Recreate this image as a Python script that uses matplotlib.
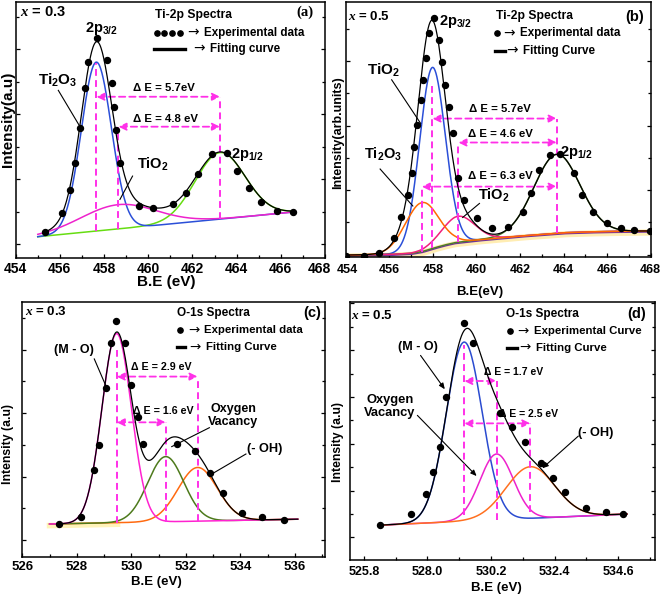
import numpy as np
import matplotlib
matplotlib.use('Agg')
import matplotlib.pyplot as plt
import matplotlib.transforms as mtransforms
from matplotlib.ticker import FixedLocator, MultipleLocator

plt.rcParams['font.family'] = ['Liberation Sans', 'DejaVu Sans']
plt.rcParams['font.weight'] = 'bold'
plt.rcParams['mathtext.fontset'] = 'custom'
plt.rcParams['mathtext.rm'] = 'Liberation Sans:bold'
plt.rcParams['mathtext.it'] = 'Liberation Serif:italic:bold'
plt.rcParams['mathtext.bf'] = 'Liberation Sans:bold'

# ---------------- data: panel (a)  Ti-2p, x = 0.3 ----------------
a_exp_be = [455.33, 456.08, 456.46, 456.69, 456.91, 457.14, 457.29, 457.67, 458.15, 458.35,
            458.45, 458.54, 458.72, 459.60, 460.23, 461.14, 461.69, 462.27, 462.90, 463.55,
            464.03, 464.58, 465.10, 465.84, 466.57]
a_exp_int = [10.2, 17.3, 26.4, 36.9, 50.5, 66.2, 76.6, 85.7, 77.2, 68.1,
             59.0, 49.9, 36.9, 20.2, 19.3, 21.0, 25.4, 32.7, 40.5, 40.8,
             34.0, 27.1, 21.6, 18.4, 17.9]
a_base_be = [455.0, 466.6]
a_base_int = [8.2, 17.9]
a_peaks = ['Ti2O3', 'TiO2', '2p1/2']
a_centers = [457.65, 458.65, 463.25]
a_heights = [66.0, 9.5, 26.0]
a_sigmas = [0.68, 1.7, 1.13]
a_ticks = [454, 456, 458, 460, 462, 464, 466, 468]

# ---------------- data: panel (b)  Ti-2p, x = 0.5 ----------------
b_exp_be = [454.02, 454.86, 455.55, 456.22, 456.54, 456.85, 457.03, 457.15, 457.29, 457.44,
            457.56, 457.69, 457.81, 458.05, 458.30, 458.42, 458.56, 458.76, 458.94, 459.14,
            459.43, 460.01, 460.73, 461.44, 462.12, 462.51, 462.89, 463.38, 463.84, 464.50,
            464.86, 465.37, 466.01, 466.62, 467.23, 467.97]
b_exp_int = [0.3, 0.4, 1.6, 7.2, 15.7, 24.2, 32.7, 43.1, 51.6, 61.4,
             69.3, 77.8, 87.6, 93.5, 85.2, 76.5, 67.3, 58.8, 48.4, 30.7,
             22.2, 15.0, 11.1, 11.8, 17.6, 24.8, 34.0, 39.9, 40.3, 32.7,
             24.4, 17.6, 13.3, 11.1, 10.5, 10.1]
b_bg_be = [454.0, 456.0, 457.0, 457.5, 458.0, 458.5, 459.0, 459.5, 460.0, 461.0,
           462.0, 463.0, 464.0, 465.0, 466.0, 468.0]
b_bg_int = [0.65, 0.9, 1.3, 2.0, 3.3, 4.5, 5.5, 6.0, 6.5, 7.3,
            8.1, 8.7, 9.4, 9.7, 9.9, 10.1]
b_peaks = ['TiO2', 'Ti2O3', 'TiO2 (2)', '2p1/2']
b_centers = [457.98, 457.49, 459.17, 463.69]
b_heights = [71.0, 19.2, 10.2, 31.0]
b_sigmas = [0.59, 0.76, 0.75, 1.05]
b_ticks = [454, 456, 458, 460, 462, 464, 466, 468]

# ---------------- data: panel (c)  O-1s, x = 0.3 ----------------
c_exp_be = [527.36, 528.15, 528.64, 528.80, 529.07, 529.25, 529.44, 529.77, 529.99, 530.23,
            530.41, 531.66, 532.33, 532.88, 533.35, 534.04, 534.78, 535.60]
c_exp_int = [13.0, 15.9, 34.2, 43.9, 66.1, 83.7, 92.6, 83.7, 67.4, 55.0,
             44.3, 44.3, 41.7, 32.9, 25.3, 17.5, 15.6, 14.6]
c_base_be = [527.0, 536.1]
c_base_int = [13.0, 14.9]
c_peaks = ['M-O', 'Oxygen Vacancy', '-OH']
c_centers = [529.46, 531.26, 532.43]
c_heights = [74.0, 25.5, 21.0]
c_sigmas = [0.54, 0.66, 0.72]
c_ticks = [526, 528, 530, 532, 534, 536]

# ---------------- data: panel (d)  O-1s, x = 0.5 ----------------
d_exp_be = [526.35, 527.43, 527.95, 528.18, 528.43, 528.64, 529.26, 529.56, 530.51, 530.91,
            531.37, 531.91, 532.33, 532.77, 533.50, 534.17, 534.77]
d_exp_int = [13.5, 17.9, 25.5, 34.2, 43.9, 63.2, 91.6, 83.9, 56.8, 51.6,
             45.8, 37.4, 31.6, 26.5, 20.0, 18.7, 17.7]
d_base_be = [526.35, 534.9]
d_base_int = [13.5, 17.8]
d_peaks = ['M-O', 'Oxygen Vacancy', '-OH']
d_centers = [529.27, 530.39, 531.56]
d_heights = [69.4, 25.5, 20.0]
d_sigmas = [0.62, 0.58, 0.85]
d_ticks = [525.8, 528.0, 530.2, 532.4, 534.6]


# ---------------- helpers ----------------
MAG = '#ff30e8'


def gauss(x, c, h, s):
    return h * np.exp(-(x - c) ** 2 / (2.0 * s ** 2))


def vdash(ax, x, y0, y1):
    ax.plot([x, x], [y0, y1], ls=(0, (3.5, 2.2)), color=MAG, lw=1.4, zorder=4)


def harrow(ax, x0, x1, y):
    ax.annotate('', xy=(x1, y), xytext=(x0, y),
                arrowprops=dict(arrowstyle='<|-|>,head_length=0.45,head_width=0.22',
                                color=MAG, lw=1.3, ls=(0, (3.5, 2.2)),
                                shrinkA=0, shrinkB=0), zorder=4)


def leader(ax, p0, p1, head=False):
    if head:
        ax.annotate('', xy=p1, xytext=p0,
                    arrowprops=dict(arrowstyle='-|>,head_length=0.35,head_width=0.15',
                                    color='black', lw=0.8, shrinkA=0, shrinkB=0))
    else:
        ax.plot([p0[0], p1[0]], [p0[1], p1[1]], color='black', lw=0.8, zorder=5)


def style(ax, xlim, yticks_start, ystep, xmajor, xlabels, tsize, pad):
    ax.set_xlim(*xlim)
    ax.set_ylim(0, 100)
    yt = np.arange(yticks_start, 100, ystep)
    ax.yaxis.set_major_locator(FixedLocator(yt))
    ax.yaxis.set_minor_locator(FixedLocator(yt + ystep / 2.0))
    ax.set_xticks(xmajor)
    ax.set_xticklabels(xlabels)
    ax.tick_params(which='both', direction='in', left=True, right=True, top=False,
                   labelleft=False, width=0.9)
    ax.tick_params(which='major', length=3.2, labelsize=tsize)
    ax.tick_params(which='minor', length=2.2)
    ax.tick_params(axis='x', pad=pad)
    for s in ax.spines.values():
        s.set_linewidth(1.1)


def axis_labels(ax, xl, xpos, xsize, yl, ypos, ysize):
    ax.text(xpos[0], xpos[1], xl, transform=ax.transAxes, fontsize=xsize,
            ha='center', va='center')
    ax.text(ypos[0], ypos[1], yl, transform=ax.transAxes, fontsize=ysize,
            rotation=90, ha='center', va='center')


def arrow_text(ax, x, y, words, fs):
    ax.text(x, y, '→', fontsize=fs + 1.5, va='center', ha='left',
            family='DejaVu Sans', weight='normal')
    ax.annotate(words, xy=(x, y), xytext=(fs * 1.45, 0), textcoords='offset points',
                fontsize=fs, va='center', ha='left')


def legend_block(ax, title, tx, ty, dots_x, dot_y, dtext_x, line_x, line_y, ltext_x, dtext, ltext, fs=8.4):
    ax.text(tx, ty, title, fontsize=fs + 0.3, va='center', ha='left')
    ax.plot(dots_x, [dot_y] * len(dots_x), 'o', color='black', ms=3.8, zorder=6)
    arrow_text(ax, dtext_x, dot_y, dtext, fs)
    ax.plot(line_x, [line_y, line_y], color='black', lw=2.4)
    arrow_text(ax, ltext_x, line_y, ltext, fs)


fig = plt.figure(figsize=(6.61, 5.98), dpi=100)

# =============== panel (a) ===============
ax = fig.add_axes([0.0237, 0.569, 0.468, 0.428])
xa = np.linspace(a_base_be[0], a_base_be[1], 600)
base_a = np.interp(xa, a_base_be, a_base_int)
col_a = ['#2b4fd8', '#ee22cc', '#66dd11']
for i in [2, 0, 1]:
    ax.plot(xa, base_a + gauss(xa, a_centers[i], a_heights[i], a_sigmas[i]), color=col_a[i], lw=1.1)
fit_a = base_a + sum(gauss(xa, c, h, s) for c, h, s in zip(a_centers, a_heights, a_sigmas))
m = xa >= a_exp_be[0] - 0.05
ax.plot(xa[m], fit_a[m], color='black', lw=0.9, zorder=5)
ax.plot(a_exp_be, a_exp_int, 'o', color='black', ms=4.3, zorder=6)

bA = lambda x: float(np.interp(x, a_base_be, a_base_int))
vdash(ax, a_centers[0], bA(a_centers[0]), 76.0)
vdash(ax, a_centers[1], bA(a_centers[1]), 51.2)
vdash(ax, a_centers[2], bA(a_centers[2]), 62.9)
harrow(ax, a_centers[0], a_centers[2], 62.9)
harrow(ax, a_centers[1], a_centers[2], 51.2)
ax.text(460.7, 66.3, 'Δ E = 5.7eV', fontsize=8.2, ha='center', va='center')
ax.text(460.8, 54.4, 'Δ E = 4.8 eV', fontsize=8.2, ha='center', va='center')

ax.text(454.2, 96.0, r'$x$ = 0.3', fontsize=10.5, ha='left', va='center')
ax.text(467.47, 96.0, '(a)', fontsize=10.5, ha='right', va='center', family='Liberation Serif')
legend_block(ax, 'Ti-2p Spectra', 460.3, 95.0, [460.38, 460.73, 461.07, 461.44], 88.0, 461.75,
             [460.26, 461.66], 81.6, 462.05, 'Experimental data', 'Fitting curve')
ax.text(457.9, 89.5, r'2p$_{3/2}$', fontsize=10.5, ha='center', va='center')
ax.text(455.89, 69.4, r'Ti$_2$O$_3$', fontsize=11, ha='center', va='center')
leader(ax, (455.93, 65.4), (456.96, 50.5))
ax.text(460.23, 36.4, r'TiO$_2$', fontsize=10.5, ha='center', va='center')
leader(ax, (459.29, 31.9), (458.72, 22.8))
ax.text(464.5, 40.2, r'2p$_{1/2}$', fontsize=10.5, ha='center', va='center')
style(ax, (454, 468), 5.2, 25.4, a_ticks, [str(v) for v in a_ticks], 10, 3.0)
ax.xaxis.set_minor_locator(MultipleLocator(1))
last = ax.get_xticklabels()[-1]
last.set_transform(last.get_transform() + mtransforms.ScaledTranslation(-6 / 100.0, 0, fig.dpi_scale_trans))
axis_labels(ax, 'B.E (eV)', (0.488, -0.094), 11, 'Intensity(a.u)', (-0.025, 0.54), 11)

# =============== panel (b) ===============
ax = fig.add_axes([0.523, 0.5707, 0.4614, 0.4263])
xb = np.linspace(454, 468, 700)
bg_b = np.interp(xb, b_bg_be, b_bg_int)
ax.plot(xb, bg_b - 0.6, color='#ffe9a0', lw=4.5, alpha=0.8, zorder=1)
col_b = ['#2b4fd8', '#ff6a00', '#f0207a', '#4f7a28']
ax.plot(xb, bg_b - 0.4, color='#7030a0', lw=1.0, zorder=2)
for i in [0, 3, 2, 1]:
    ax.plot(xb, bg_b + gauss(xb, b_centers[i], b_heights[i], b_sigmas[i]), color=col_b[i], lw=1.1, zorder=3)
fit_b = bg_b + sum(gauss(xb, c, h, s) for c, h, s in zip(b_centers, b_heights, b_sigmas))
ax.plot(xb, fit_b, color='black', lw=0.9, zorder=5)
ax.plot(b_exp_be, b_exp_int, 'o', color='black', ms=4.3, zorder=6)

bB = lambda x: float(np.interp(x, b_bg_be, b_bg_int))
vdash(ax, b_centers[0], bB(b_centers[0]), 67.3)
vdash(ax, b_centers[1], bB(b_centers[1]), 27.5)
vdash(ax, b_centers[2], bB(b_centers[2]), 44.8)
vdash(ax, b_centers[3], bB(b_centers[3]), 54.2)
harrow(ax, b_centers[0], b_centers[3], 54.2)
harrow(ax, b_centers[2], b_centers[3], 44.8)
harrow(ax, b_centers[1], b_centers[3], 27.5)
ax.text(461.08, 57.9, 'Δ E = 5.7eV', fontsize=8.2, ha='center', va='center')
ax.text(461.11, 48.3, 'Δ E = 4.6 eV', fontsize=8.2, ha='center', va='center')
ax.text(461.08, 31.5, 'Δ E = 6.3 eV', fontsize=8.2, ha='center', va='center')

ax.text(454.12, 94.4, r'$x$ = 0.5', fontsize=9.5, ha='left', va='center')
ax.text(467.7, 94.2, '(b)', fontsize=10.5, ha='right', va='center')
legend_block(ax, 'Ti-2p Spectra', 460.9, 94.6, [460.93], 87.6, 461.22,
             [460.85, 461.31], 80.8, 461.36, 'Experimental data', 'Fitting Curve')
ax.text(459.05, 92.4, r'2p$_{3/2}$', fontsize=10.5, ha='center', va='center')
ax.text(455.73, 72.9, r'TiO$_2$', fontsize=11, ha='center', va='center')
leader(ax, (456.11, 69.4), (457.44, 52.3))
ax.text(455.70, 40.0, r'Ti$_2$O$_3$', fontsize=10.5, ha='center', va='center')
leader(ax, (455.58, 34.4), (457.08, 19.9))
ax.text(460.78, 24.0, r'TiO$_2$', fontsize=10.5, ha='center', va='center')
leader(ax, (460.14, 20.9), (459.37, 15.4))
ax.text(464.6, 40.8, r'2p$_{1/2}$', fontsize=10.5, ha='center', va='center')
style(ax, (454, 468), 0.8, 25.3, b_ticks, [str(v) for v in b_ticks], 9, 5.5)
ax.xaxis.set_minor_locator(MultipleLocator(1))
first = ax.get_xticklabels()[0]
first.set_transform(first.get_transform() + mtransforms.ScaledTranslation(2 / 100.0, 0, fig.dpi_scale_trans))
axis_labels(ax, 'B.E(eV)', (0.44, -0.137), 9.5, 'Intensity(arb.units)', (-0.025, 0.487), 9)

# =============== panel (c) ===============
ax = fig.add_axes([0.0337, 0.0681, 0.458, 0.4274])
xc = np.linspace(c_base_be[0], c_base_be[1], 600)
base_c = np.interp(xc, c_base_be, c_base_int)
ax.plot(xc[xc < 529.5], base_c[xc < 529.5] - 0.6, color='#fff0a8', lw=4, alpha=0.8, zorder=1)
col_c = ['#ff22d0', '#4d7a1c', '#ff6a10']
for i in [2, 1, 0]:
    ax.plot(xc, base_c + gauss(xc, c_centers[i], c_heights[i], c_sigmas[i]), color=col_c[i], lw=1.1, zorder=3)
fit_c = base_c + sum(gauss(xc, c, h, s) for c, h, s in zip(c_centers, c_heights, c_sigmas))
m = xc >= c_exp_be[0] - 0.1
ax.plot(xc[m], fit_c[m], color='black', lw=0.9, zorder=5)
ax.plot(c_exp_be, c_exp_int, 'o', color='black', ms=4.3, zorder=6)

bC = lambda x: float(np.interp(x, c_base_be, c_base_int))
vdash(ax, c_centers[0], bC(c_centers[0]), 81.1)
vdash(ax, c_centers[1], bC(c_centers[1]), 52.8)
vdash(ax, c_centers[2], bC(c_centers[2]), 70.7)
harrow(ax, c_centers[0], c_centers[2], 70.7)
harrow(ax, c_centers[0], c_centers[1], 52.8)
ax.text(531.11, 74.6, 'Δ E = 2.9 eV', fontsize=7.7, ha='center', va='center')
ax.text(531.17, 57.3, 'Δ E = 1.6 eV', fontsize=7.7, ha='center', va='center')

ax.text(526.1, 96.0, r'$x$ = 0.3', fontsize=9.5, ha='left', va='center')
ax.text(536.95, 95.6, '(c)', fontsize=10.5, ha='right', va='center')
legend_block(ax, 'O-1s Spectra', 531.66, 95.4, [531.78], 88.9, 532.07,
             [531.66, 531.97], 82.1, 532.12, 'Experimental data', 'Fitting Curve', fs=8.2)
ax.text(527.89, 81.1, '(M - O)', fontsize=9, ha='center', va='center')
leader(ax, (528.64, 77.6), (529.12, 65.7))
ax.text(533.74, 55.4, 'Oxygen\nVacancy', fontsize=9, ha='center', va='center', linespacing=1.1)
leader(ax, (532.86, 50.7), (531.48, 43.3))
ax.text(534.9, 42.4, '(- OH)', fontsize=9.2, ha='center', va='center')
leader(ax, (534.2, 40.4), (533.0, 32.9))
style(ax, (526, 537.1), 6.8, 24.8, c_ticks, [str(v) for v in c_ticks], 9.5, 3.0)
ax.xaxis.set_minor_locator(MultipleLocator(1))
axis_labels(ax, 'B.E (eV)', (0.444, -0.095), 9.5, 'Intensity (a.u)', (-0.047, 0.444), 8.8)

# =============== panel (d) ===============
ax = fig.add_axes([0.5295, 0.0635, 0.4614, 0.432])
xd = np.linspace(d_base_be[0], d_base_be[1], 600)
base_d = np.interp(xd, d_base_be, d_base_int)
col_d = ['#2a4bd0', '#ee22cc', '#ff7020']
for i in [0, 1, 2]:
    ax.plot(xd, base_d + gauss(xd, d_centers[i], d_heights[i], d_sigmas[i]), color=col_d[i], lw=1.1, zorder=3)
fit_d = base_d + sum(gauss(xd, c, h, s) for c, h, s in zip(d_centers, d_heights, d_sigmas))
ax.plot(xd, fit_d, color='black', lw=0.9, zorder=5)
ax.plot(d_exp_be, d_exp_int, 'o', color='black', ms=4.3, zorder=6)

bD = lambda x: float(np.interp(x, d_base_be, d_base_int))
vdash(ax, d_centers[0], bD(d_centers[0]) + 2.5, 83.2)
vdash(ax, d_centers[1], bD(d_centers[1]), 69.3)
vdash(ax, d_centers[2], bD(d_centers[2]) + 2.5, 52.9)
harrow(ax, d_centers[0], d_centers[1], 69.3)
harrow(ax, d_centers[0], d_centers[2], 52.9)
ax.text(530.99, 72.6, 'Δ E = 1.7 eV', fontsize=7.5, ha='center', va='center')
ax.text(531.49, 56.5, 'Δ E = 2.5 eV', fontsize=7.5, ha='center', va='center')

ax.text(525.37, 94.8, r'$x$ = 0.5', fontsize=9.5, ha='left', va='center')
ax.text(535.55, 95.2, '(d)', fontsize=10.5, ha='right', va='center')
legend_block(ax, 'O-1s Spectra', 530.7, 95.2, [530.85], 88.6, 531.12,
             [530.74, 531.08], 82.2, 531.18, 'Experimental Curve', 'Fitting Curve', fs=8.2)
ax.text(527.68, 82.6, '(M - O)', fontsize=9, ha='center', va='center')
leader(ax, (527.76, 79.2), (528.6, 66.1), head=True)
ax.text(526.7, 59.6, 'Oxygen\nVacancy', fontsize=9.3, ha='center', va='center', linespacing=1.1)
leader(ax, (527.65, 56.0), (529.7, 32.5), head=True)
ax.text(533.82, 49.3, '(- OH)', fontsize=9.2, ha='center', va='center')
leader(ax, (533.22, 48.0), (531.97, 35.5), head=True)
style(ax, (525.32, 535.87), 8.8, 18.1, d_ticks, ['%.1f' % v for v in d_ticks], 9, 4.0)
ax.xaxis.set_minor_locator(FixedLocator([v + 1.1 for v in d_ticks]))
axis_labels(ax, 'B.E (eV)', (0.481, -0.11), 9.5, 'Intensity (a.u)', (-0.039, 0.455), 8.8)

fig.savefig('out.png', dpi=100)
